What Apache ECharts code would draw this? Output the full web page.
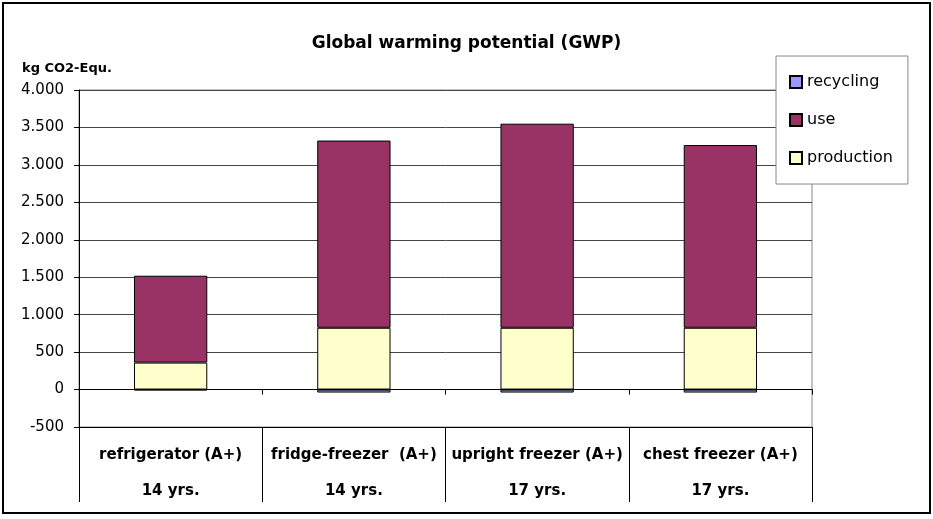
<!DOCTYPE html>
<html lang="en">
<head>
    <meta charset="UTF-8">
    <title>GWP</title>
    <script src="https://cdn.jsdelivr.net/npm/echarts@6/dist/echarts.min.js"></script>
    <style>
        html, body { margin: 0; padding: 0; background: #fff; }
        #main { width: 933px; height: 519px; }
    </style>
</head>
<body>
<div id="main"></div>
<script type="text/javascript">
    // 数据
    var appliances = ['refrigerator (A+)', 'fridge-freezer  (A+)', 'upright freezer (A+)', 'chest freezer (A+)'];
    var lifetimes = ['14 yrs.', '14 yrs.', '17 yrs.', '17 yrs.'];
    var production = [360, 825, 825, 825];
    var use = [1160, 2500, 2725, 2440];
    var recycling = [-10, -40, -40, -40];
    var yTicks = [-500, 0, 500, 1000, 1500, 2000, 2500, 3000, 3500, 4000];

    var font = '"DejaVu Sans", Arial, sans-serif';

    // 4.000 -> 德式千分位
    function fmt(v) {
        return String(v).replace(/\B(?=(\d{3})+(?!\d))/g, '.');
    }

    var myChart = echarts.init(document.getElementById('main'));

    var option = {
        backgroundColor: '#fff',
        animation: false,
        textStyle: { fontFamily: font, color: '#000' },
        title: {
            text: 'Global warming potential (GWP)',
            left: 'center',
            top: 30,
            textStyle: { fontFamily: font, fontSize: 17, fontWeight: 'bold', color: '#000' }
        },
        legend: {
            data: ['recycling', 'use', 'production'],
            orient: 'vertical',
            left: 776,
            top: 56,
            padding: [18, 15, 18, 13],
            itemGap: 22,
            itemWidth: 12,
            itemHeight: 12,
            icon: 'rect',
            backgroundColor: '#fff',
            borderColor: '#888',
            borderWidth: 1,
            textStyle: { fontFamily: font, fontSize: 16, lineHeight: 16, color: '#000' }
        },
        grid: {
            left: 79,
            right: 121,
            top: 90,
            bottom: 92,
            show: true,
            borderColor: '#888',
            borderWidth: 1
        },
        graphic: [{
            type: 'rect',
            shape: { x: 3, y: 3, width: 927, height: 510 },
            style: { fill: null, stroke: '#000', lineWidth: 2 },
            z: 100
        }],
        xAxis: [{
            type: 'category',
            data: appliances,
            position: 'bottom',
            axisLine: { onZero: true, lineStyle: { color: '#000', width: 1 } },
            axisTick: { show: true, interval: 0, length: 5, lineStyle: { color: '#000' } },
            axisLabel: { show: false }
        }, {
            type: 'category',
            data: appliances.map(function (a, i) { return a + '\n' + lifetimes[i]; }),
            position: 'bottom',
            axisLine: { onZero: false, lineStyle: { color: '#000', width: 1 } },
            axisTick: { show: true, interval: 0, length: 75, lineStyle: { color: '#000' } },
            axisLabel: {
                interval: 0,
                margin: 10,
                lineHeight: 36,
                fontFamily: font,
                fontSize: 15,
                fontWeight: 'bold',
                color: '#000'
            }
        }],
        yAxis: {
            type: 'value',
            min: yTicks[0],
            max: yTicks[yTicks.length - 1],
            interval: 500,
            name: 'kg CO2-Equ.',
            nameLocation: 'end',
            nameGap: 15,
            nameTextStyle: {
                align: 'left',
                padding: [0, 0, 0, -57],
                fontFamily: font,
                fontSize: 13,
                fontWeight: 'bold',
                color: '#000'
            },
            axisLine: { show: true, lineStyle: { color: '#000', width: 1 } },
            axisTick: { show: true, length: 5, lineStyle: { color: '#000' } },
            axisLabel: {
                margin: 15,
                fontFamily: font,
                fontSize: 15,
                color: '#000',
                formatter: fmt
            },
            splitLine: { show: true, lineStyle: { color: '#444', width: 1 } }
        },
        series: [{
            name: 'production',
            type: 'bar',
            stack: 'gwp',
            barWidth: '40%',
            data: production,
            itemStyle: { color: '#ffffcc', borderColor: '#000', borderWidth: 1 }
        }, {
            name: 'use',
            type: 'bar',
            stack: 'gwp',
            barWidth: '40%',
            data: use,
            itemStyle: { color: '#993366', borderColor: '#000', borderWidth: 1 }
        }, {
            name: 'recycling',
            type: 'bar',
            stack: 'gwp',
            barWidth: '40%',
            data: recycling,
            itemStyle: { color: '#9999ff', borderColor: '#000', borderWidth: 1 }
        }]
    };

    myChart.setOption(option);
</script>
</body>
</html>
